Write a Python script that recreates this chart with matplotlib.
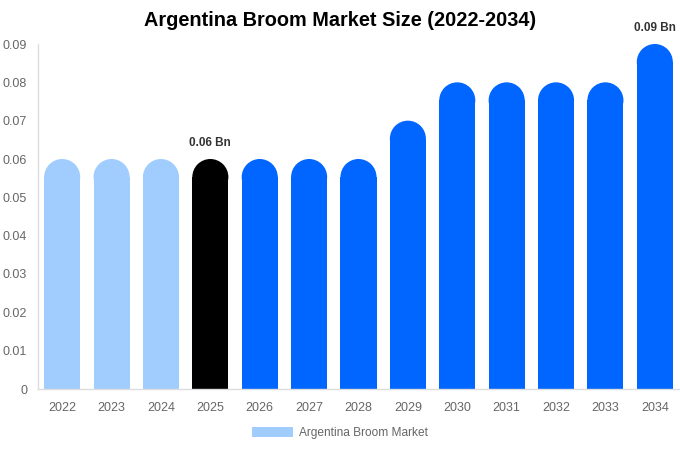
import matplotlib
matplotlib.use("Agg")
import matplotlib.pyplot as plt
from matplotlib.patches import Rectangle, Ellipse, Patch

years = ["2022", "2023", "2024", "2025", "2026", "2027", "2028", "2029", "2030", "2031", "2032", "2033", "2034"]
values = [0.06, 0.06, 0.06, 0.06, 0.06, 0.06, 0.06, 0.07, 0.08, 0.08, 0.08, 0.08, 0.09]
colors = ["#a0cdfd"] * 3 + ["#000000"] + ["#0066ff"] * 9
annotations = {3: "0.06 Bn", 12: "0.09 Bn"}
y_ticks = [0, 0.01, 0.02, 0.03, 0.04, 0.05, 0.06, 0.07, 0.08, 0.09]
legend_label = "Argentina Broom Market"
title = "Argentina Broom Market Size (2022-2034)"

plt.rcParams['font.family'] = ['Liberation Sans', 'DejaVu Sans']
W, H = 680, 450
fig = plt.figure(figsize=(W / 100, H / 100), dpi=100)
ax_l, ax_r, ax_t, ax_b = 37.5, 679.5, 44, 389
ax = fig.add_axes([ax_l / W, (H - ax_b) / H, (ax_r - ax_l) / W, (ax_b - ax_t) / H])
ymax = 0.09
ax.set_xlim(-0.5, len(years) - 0.5)
ax.set_ylim(0, ymax)

bw = 0.73
px_per_y = (ax_b - ax_t) / ymax
px_per_x = (ax_r - ax_l) / len(years)
r_px = bw * px_per_x / 2
r_y = r_px / px_per_y
for i, (v, c) in enumerate(zip(values, colors)):
    ax.add_patch(Rectangle((i - bw / 2, 0), bw, v - r_y, facecolor=c, edgecolor='none'))
    ax.add_patch(Ellipse((i, v - r_y), bw, 2 * r_y, facecolor=c, edgecolor='none'))
    if i in annotations:
        ax.annotate(annotations[i], (i, v), xytext=(0, 7), textcoords='offset points',
                    ha='center', va='bottom', fontsize=8.5, fontweight='bold', color='#333333')

ax.set_xticks(range(len(years)))
ax.set_xticklabels(years)
ax.set_yticks(y_ticks)
ax.set_yticklabels([("%g" % t) if t else "0" for t in y_ticks])
ax.tick_params(axis='both', length=0, labelsize=9, colors='#666666')
ax.tick_params(axis='x', pad=9.5)
ax.tick_params(axis='y', pad=7.5)
for s in ['top', 'right']:
    ax.spines[s].set_visible(False)
for s in ['left', 'bottom']:
    ax.spines[s].set_color('#dddddd')
    ax.spines[s].set_linewidth(1)

fig.text(0.5, 1 - 21 / H, title, ha='center', va='center', fontsize=14.3, fontweight='bold', color='#000000')

leg = fig.legend(handles=[Patch(facecolor=colors[0], edgecolor='none', label=legend_label)],
                 loc='center', bbox_to_anchor=(0.5, 1 - 433 / H), frameon=False,
                 fontsize=8.6, handlelength=3.4, handleheight=1.0, handletextpad=0.5)
for t in leg.get_texts():
    t.set_color('#666666')

fig.savefig("out.png", dpi=100)
